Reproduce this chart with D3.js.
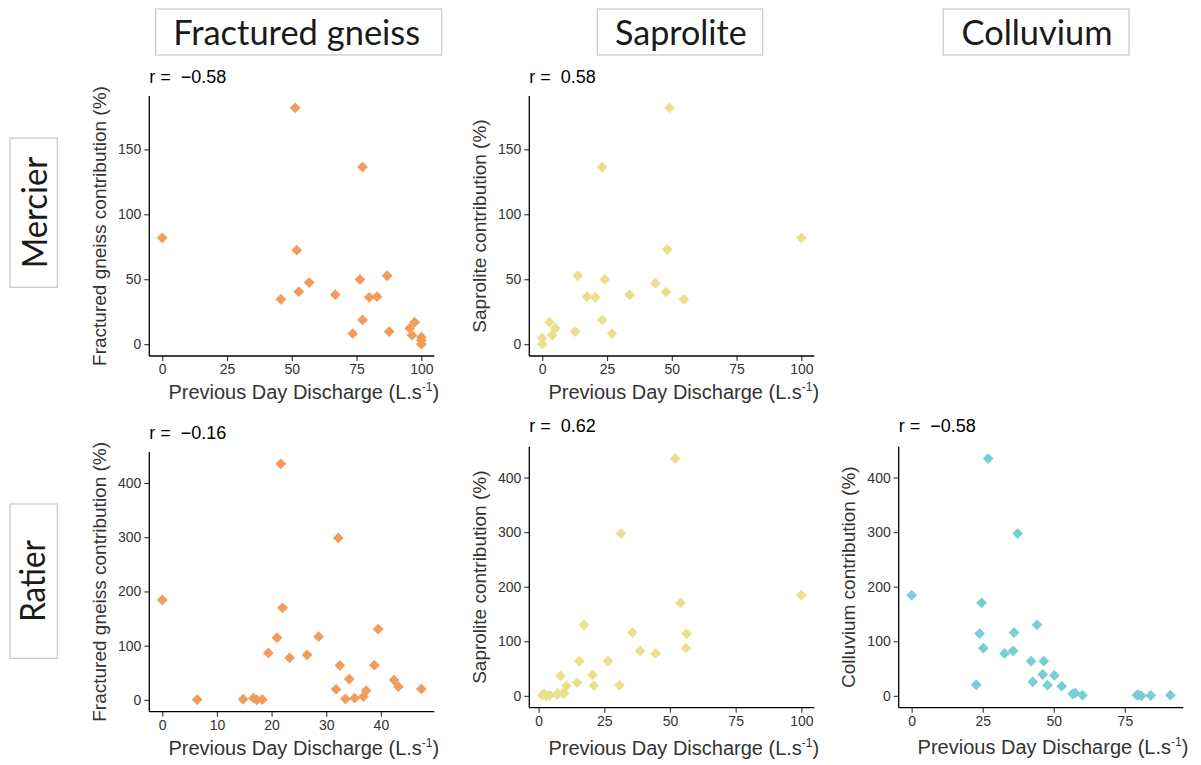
<!DOCTYPE html>
<html>
<head>
<meta charset="utf-8">
<script src="https://cdn.jsdelivr.net/npm/d3@7"></script>
<style>
  html, body { margin: 0; padding: 0; background: #fff; }
  svg { display: block; }
</style>
</head>
<body>
<svg id="chart" width="1201" height="765"></svg>
<script>
// ---------------- DATA ----------------
const columnLabels = ["Fractured gneiss", "Saprolite", "Colluvium"];
const rowLabels = ["Mercier", "Ratier"];

const mercierGneissQ = [0, 51.3, 77.3, 51.9, 45.8, 52.7, 56.7, 66.8, 76.3, 86.8, 79.9, 82.9, 77.3, 73.5, 87.6, 95.5, 97.4, 96.4, 100, 100, 100];
const mercierGneissC = [81.9, 182, 136.4, 72.4, 34.6, 40.4, 47.4, 38.1, 49.9, 52.7, 36.1, 36.6, 18.7, 8.2, 9.7, 12.3, 16.9, 6.9, 5.4, 0, 3];

const mercierSaproliteQ = [49.1, 23.1, 100, 48.3, 13.7, 24.1, 43.7, 47.8, 54.6, 33.7, 17.3, 20.5, 23.1, 12.7, 26.9, 2.8, 5.1, 3.8, 0, 0];
const mercierSaproliteC = [182, 136.4, 81.9, 72.9, 52.7, 49.9, 46.8, 40.2, 34.6, 38.1, 36.6, 36.1, 18.7, 9.7, 8.2, 16.9, 12.3, 6.9, 4.6, 0];

const ratierGneissQ = [0, 21.7, 32.2, 22.0, 21.0, 28.6, 39.5, 19.4, 23.3, 26.5, 32.5, 38.8, 34.2, 42.4, 43.2, 47.4, 31.8, 37.3, 36.8, 33.5, 35.2, 6.4, 14.8, 16.7, 17.3, 18.3];
const ratierGneissC = [184.4, 435.4, 298.6, 169.8, 114.8, 116.6, 130.7, 86.7, 77.6, 83.1, 63.5, 64.1, 38.5, 36.6, 24.4, 20.2, 19.5, 17.1, 6.1, 1.8, 3.1, 0.6, 1.2, 3.1, 0, 0.6];

const ratierSaproliteQ = [52.0, 31.4, 100, 54.0, 17.3, 35.7, 56.3, 56.1, 38.7, 44.5, 15.5, 26.4, 8.3, 20.5, 14.7, 21.0, 30.8, 10.6, 7.3, 9.4, 1.4, 3.0, 4.3, 7.1, 9.6, 2.2];
const ratierSaproliteC = [434.8, 297.4, 184.4, 170.4, 130.1, 116.0, 113.6, 87.3, 82.4, 77.6, 63.5, 63.5, 36.6, 38.5, 24.4, 18.9, 19.5, 18.3, 4.3, 4.9, 1.2, 0, 1.2, 2.4, 3.7, 3.5];

const ratierColluviumQ = [0, 26.9, 37.3, 24.6, 44.1, 23.9, 36.0, 25.2, 32.7, 35.7, 42.0, 46.5, 46.1, 50.2, 42.6, 47.8, 22.7, 52.8, 56.6, 60.1, 57.5, 79.2, 80.8, 84.1, 91.0, 79.8];
const ratierColluviumC = [184.4, 434.8, 297.4, 170.4, 130.1, 114.2, 116.0, 87.3, 77.6, 82.4, 63.5, 63.5, 39.1, 37.3, 25.6, 19.5, 20.2, 17.7, 3.7, 1.2, 5, 1.2, 0, 0.6, 1.2, 2];

const correlations = ["\u22120.58", "0.58", "\u22120.16", "0.62", "\u22120.58"];

const xTicks100 = [0, 25, 50, 75, 100];
const xTicks40 = [0, 10, 20, 30, 40];
const xTicks75 = [0, 25, 50, 75];
const yTicks150 = [0, 50, 100, 150];
const yTicks400 = [0, 100, 200, 300, 400];

const sourceColors = { "Fractured gneiss": "#F39B5A", "Saprolite": "#E8E08A", "Colluvium": "#79CED3" };

// ---------------- PANELS ----------------
const panels = [
  { q: mercierGneissQ, c: mercierGneissC, r: correlations[0], src: "Fractured gneiss", xt: xTicks100, yt: yTicks150,
    box: [149.3, 434.3, 96, 356], rY: 83.3, yTitleX: 105.5, xTitleY: 399 },
  { q: mercierSaproliteQ, c: mercierSaproliteC, r: correlations[1], src: "Saprolite", xt: xTicks100, yt: yTicks150,
    box: [529.3, 814.3, 96, 356], rY: 83.3, yTitleX: 485.5, xTitleY: 399 },
  { q: ratierGneissQ, c: ratierGneissC, r: correlations[2], src: "Fractured gneiss", xt: xTicks40, yt: yTicks400,
    box: [149.3, 434.3, 452, 711.7], rY: 439, yTitleX: 105.5, xTitleY: 755 },
  { q: ratierSaproliteQ, c: ratierSaproliteC, r: correlations[3], src: "Saprolite", xt: xTicks100, yt: yTicks400,
    box: [529.3, 814.3, 446.7, 707.7], rY: 432.3, yTitleX: 485.5, xTitleY: 755 },
  { q: ratierColluviumQ, c: ratierColluviumC, r: correlations[4], src: "Colluvium", xt: xTicks75, yt: yTicks400,
    box: [898.7, 1183.3, 446.7, 707.7], rY: 432.3, yTitleX: 855, xTitleY: 754 }
];

const svg = d3.select("#chart");
const tickFont = "'Liberation Sans', Arial, Helvetica, sans-serif";

function expand(ext) {
  const pad = (ext[1] - ext[0]) * 0.05;
  return [ext[0] - pad, ext[1] + pad];
}

const diamond = d3.symbol().type(d3.symbolSquare).size(58);

panels.forEach(p => {
  const [x0, x1, y0, y1] = p.box;
  const x = d3.scaleLinear().domain(expand(d3.extent(p.q))).range([x0, x1]);
  const y = d3.scaleLinear().domain(expand(d3.extent(p.c))).range([y1, y0]);
  const g = svg.append("g");

  // points
  const pts = p.q.map((v, i) => ({ q: v, c: p.c[i] }));
  g.append("g").selectAll("path").data(pts).join("path")
    .attr("d", diamond)
    .attr("transform", d => `translate(${x(d.q)},${y(d.c)}) rotate(45)`)
    .attr("fill", sourceColors[p.src]);

  // axes
  const xAxis = d3.axisBottom(x).tickValues(p.xt).tickSize(5).tickPadding(3).tickSizeOuter(0);
  const yAxis = d3.axisLeft(y).tickValues(p.yt).tickSize(5).tickPadding(3).tickSizeOuter(0);
  const gx = g.append("g").attr("transform", `translate(0,${y1})`).call(xAxis);
  const gy = g.append("g").attr("transform", `translate(${x0},0)`).call(yAxis);
  [gx, gy].forEach(a => {
    a.select(".domain").remove();
    a.selectAll(".tick line").attr("stroke", "#333").attr("stroke-width", 1.1);
    a.selectAll(".tick text").attr("fill", "#333").style("font-family", tickFont).style("font-size", "14px");
  });
  // axis lines (classic theme)
  g.append("line").attr("x1", x0).attr("x2", x1).attr("y1", y1).attr("y2", y1)
    .attr("stroke", "#000").attr("stroke-width", 1.3);
  g.append("line").attr("x1", x0).attr("x2", x0).attr("y1", y0).attr("y2", y1)
    .attr("stroke", "#000").attr("stroke-width", 1.3);

  // r label
  g.append("text").attr("x", x0).attr("y", p.rY)
    .style("font-family", tickFont).style("font-size", "18px").attr("fill", "#000")
    .attr("xml:space", "preserve")
    .text("r =  " + p.r);

  // x title
  const xt = g.append("text").attr("x", (x0 + x1) / 2 + 12).attr("y", p.xTitleY)
    .attr("text-anchor", "middle").attr("fill", "#333")
    .style("font-family", tickFont).style("font-size", "20px");
  xt.append("tspan").text("Previous Day Discharge (L.s");
  xt.append("tspan").attr("dy", -8).style("font-size", "12px").text("-1");
  xt.append("tspan").attr("dy", 8).text(")");

  // y title
  g.append("text")
    .attr("transform", `translate(${p.yTitleX},${(y0 + y1) / 2}) rotate(-90)`)
    .attr("text-anchor", "middle").attr("fill", "#333")
    .style("font-family", tickFont).style("font-size", "19px")
    .text(p.src + " contribution (%)");
});

// ---------------- STRIP LABELS ----------------
const headerFont = "Lato, 'Open Sans', sans-serif";
const colHeaders = [
  { label: columnLabels[0], box: [155.7, 441.7], cx: 296.7, w: 247 },
  { label: columnLabels[1], box: [597.3, 762.7], cx: 680.8, w: 131.7 },
  { label: columnLabels[2], box: [943.3, 1129], cx: 1037, w: 151 }
];
colHeaders.forEach(h => {
  svg.append("rect").attr("x", h.box[0]).attr("y", 9).attr("width", h.box[1] - h.box[0]).attr("height", 46)
    .attr("fill", "#fff").attr("stroke", "#c8c8c8").attr("stroke-width", 1.2);
  svg.append("text").attr("x", h.cx).attr("y", 45).attr("text-anchor", "middle")
    .attr("fill", "#1a1a1a").style("font-family", headerFont).style("font-size", "34px")
    .attr("textLength", h.w).attr("lengthAdjust", "spacingAndGlyphs")
    .text(h.label);
});

const rowHeaders = [
  { label: rowLabels[0], box: [138, 287.3], cy: 212.5, w: 111.5, bx: 46.5 },
  { label: rowLabels[1], box: [504, 658.3], cy: 581, w: 81.7, bx: 45 }
];
rowHeaders.forEach(h => {
  svg.append("rect").attr("x", 10).attr("y", h.box[0]).attr("width", 47.3).attr("height", h.box[1] - h.box[0])
    .attr("fill", "#fff").attr("stroke", "#c8c8c8").attr("stroke-width", 1.2);
  svg.append("text").attr("transform", `translate(${h.bx},${h.cy}) rotate(-90)`)
    .attr("text-anchor", "middle").attr("fill", "#1a1a1a")
    .style("font-family", headerFont).style("font-size", "35px")
    .attr("textLength", h.w).attr("lengthAdjust", "spacingAndGlyphs")
    .text(h.label);
});
</script>
</body>
</html>
